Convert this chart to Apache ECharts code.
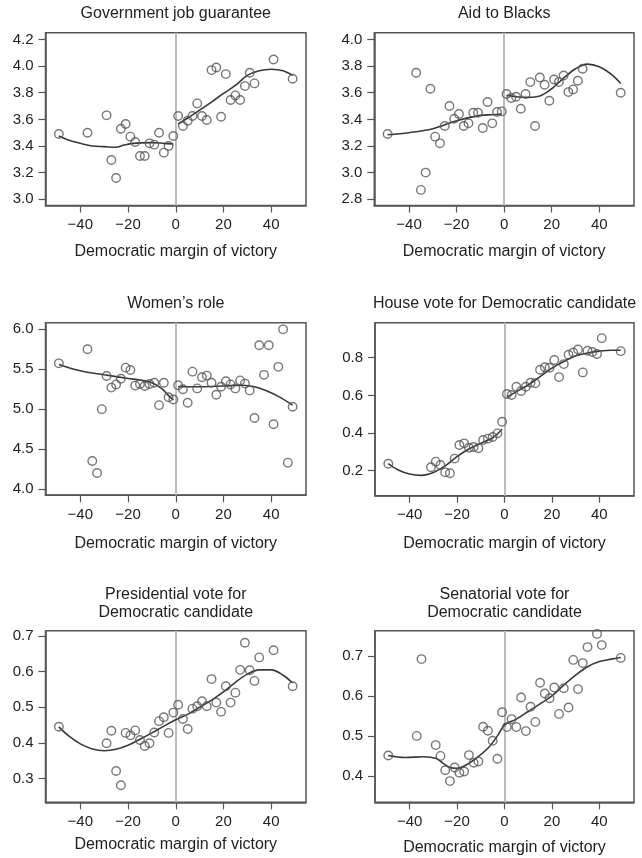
<!DOCTYPE html>
<html>
<head>
<meta charset="utf-8">
<script src="https://cdn.jsdelivr.net/npm/echarts@6/dist/echarts.min.js"></script>
<style>html,body{margin:0;padding:0;background:#fff}#c{width:642px;height:858px}</style>
</head>
<body>
<div id="c"></div>
<script>
// ---------- DATA ----------
const xTicks = [-40, -20, 0, 20, 40];
const xName = 'Democratic margin of victory';

// Government job guarantee
const jobTitle = 'Government job guarantee';
const jobTicks = [3.0, 3.2, 3.4, 3.6, 3.8, 4.0, 4.2];
const jobX = [-49,-37,-29,-27,-25,-23,-21,-19,-17,-15,-13,-11,-9,-7,-5,-3,-1,1,3,5,7,9,11,13,15,17,19,21,23,25,27,29,31,33,41,49];
const jobY = [3.49,3.50,3.63,3.295,3.16,3.53,3.565,3.47,3.43,3.325,3.325,3.42,3.41,3.50,3.35,3.40,3.475,3.625,3.55,3.59,3.625,3.72,3.625,3.595,3.97,3.99,3.62,3.94,3.745,3.78,3.745,3.85,3.95,3.87,4.05,3.905];
const jobFitLX = [-49,-45,-40,-35,-30,-25,-22,-18,-10,-5,-1];
const jobFitLY = [3.475,3.445,3.42,3.40,3.395,3.39,3.405,3.42,3.425,3.42,3.415];
const jobFitRX = [1,5,10,15,20,25,30,35,40,45,49];
const jobFitRY = [3.565,3.61,3.67,3.73,3.795,3.855,3.93,3.965,3.977,3.965,3.93];

// Aid to Blacks
const aidTitle = 'Aid to Blacks';
const aidTicks = [2.8, 3.0, 3.2, 3.4, 3.6, 3.8, 4.0];
const aidX = [-49,-37,-35,-33,-31,-29,-27,-25,-23,-21,-19,-17,-15,-13,-11,-9,-7,-5,-3,-1,1,3,5,7,9,11,13,15,17,19,21,23,25,27,29,31,33,49];
const aidY = [3.29,3.75,2.87,3.00,3.63,3.27,3.22,3.35,3.50,3.405,3.44,3.35,3.37,3.45,3.45,3.335,3.53,3.37,3.455,3.46,3.59,3.56,3.57,3.48,3.59,3.68,3.35,3.715,3.66,3.54,3.70,3.68,3.73,3.605,3.625,3.69,3.78,3.60];
const aidFitLX = [-49,-40,-30,-20,-10,-5,-1];
const aidFitLY = [3.285,3.30,3.33,3.39,3.43,3.435,3.44];
const aidFitRX = [1,5,10,15,20,25,30,35,40,45,49];
const aidFitRY = [3.58,3.57,3.565,3.575,3.63,3.71,3.78,3.815,3.795,3.74,3.67];

// Women's role
const womenTitle = 'Women\u2019s role';
const womenTicks = [4.0, 4.5, 5.0, 5.5, 6.0];
const womenX = [-49,-37,-35,-33,-31,-29,-27,-25,-23,-21,-19,-17,-15,-13,-11,-9,-7,-5,-3,-1,1,3,5,7,9,11,13,15,17,19,21,23,25,27,29,31,33,35,37,39,41,43,45,47,49];
const womenY = [5.574,5.75,4.35,4.20,5.00,5.415,5.27,5.31,5.38,5.52,5.49,5.295,5.315,5.29,5.315,5.33,5.05,5.33,5.15,5.12,5.30,5.25,5.08,5.47,5.26,5.40,5.42,5.33,5.18,5.28,5.35,5.31,5.26,5.36,5.32,5.235,4.89,5.80,5.43,5.80,4.81,5.53,6.00,4.33,5.03];
const womenFitLX = [-49,-40,-30,-20,-14,-10,-6,-3,-1];
const womenFitLY = [5.56,5.48,5.43,5.385,5.36,5.33,5.26,5.17,5.115];
const womenFitRX = [1,10,20,28,33,38,43,49];
const womenFitRY = [5.28,5.28,5.29,5.30,5.28,5.23,5.16,5.05];

// House vote
const houseTitle = 'House vote for Democratic candidate';
const houseTicks = [0.2, 0.4, 0.6, 0.8];
const houseX = [-49,-31,-29,-27,-25,-23,-21,-19,-17,-15,-13,-11,-9,-7,-5,-3,-1,1,3,5,7,9,11,13,15,17,19,21,23,25,27,29,31,33,35,37,39,41,49];
const houseY = [0.237,0.218,0.248,0.23,0.191,0.186,0.264,0.336,0.345,0.322,0.326,0.319,0.363,0.37,0.379,0.398,0.46,0.607,0.602,0.646,0.623,0.646,0.667,0.664,0.736,0.749,0.747,0.788,0.697,0.766,0.816,0.828,0.844,0.722,0.837,0.83,0.82,0.904,0.835];
const houseFitLX = [-49,-45,-40,-35,-30,-25,-20,-15,-10,-5,-1];
const houseFitLY = [0.237,0.205,0.182,0.175,0.19,0.225,0.275,0.315,0.345,0.375,0.42];
const houseFitRX = [1,5,10,15,20,25,30,35,40,45,49];
const houseFitRY = [0.59,0.62,0.655,0.70,0.745,0.78,0.81,0.825,0.835,0.84,0.84];

// Presidential vote
const presTitle = 'Presidential vote for\nDemocratic candidate';
const presTicks = [0.3, 0.4, 0.5, 0.6, 0.7];
const presX = [-49,-29,-27,-25,-23,-21,-19,-17,-15,-13,-11,-9,-7,-5,-3,-1,1,3,5,7,9,11,13,15,17,19,21,23,25,27,29,31,33,35,41,49];
const presY = [0.445,0.399,0.434,0.321,0.281,0.428,0.421,0.435,0.408,0.391,0.399,0.429,0.461,0.472,0.428,0.485,0.507,0.467,0.439,0.496,0.503,0.517,0.503,0.579,0.513,0.487,0.559,0.513,0.541,0.605,0.681,0.604,0.574,0.64,0.66,0.559];
const presFitX = [-49,-45,-40,-35,-30,-25,-20,-15,-10,-5,0,5,10,15,20,25,30,35,40,45,49];
const presFitY = [0.445,0.42,0.397,0.383,0.378,0.382,0.393,0.41,0.428,0.447,0.465,0.48,0.50,0.52,0.543,0.57,0.593,0.605,0.605,0.59,0.568];

// Senatorial vote
const senTitle = 'Senatorial vote for\nDemocratic candidate';
const senTicks = [0.4, 0.5, 0.6, 0.7];
const senX = [-49,-37,-35,-29,-27,-25,-23,-21,-19,-17,-15,-13,-11,-9,-7,-5,-3,-1,1,3,5,7,9,11,13,15,17,19,21,23,25,27,29,31,33,35,39,41,49];
const senY = [0.451,0.5,0.692,0.477,0.45,0.414,0.387,0.421,0.408,0.411,0.452,0.433,0.436,0.523,0.513,0.488,0.443,0.559,0.522,0.542,0.522,0.596,0.512,0.573,0.535,0.633,0.606,0.594,0.621,0.555,0.619,0.571,0.69,0.617,0.682,0.722,0.755,0.727,0.695];
const senFitX = [-49,-42,-34,-29,-26,-23,-20,-16,-12,-7,-3,0,5,10,15,20,25,30,35,40,45,49];
const senFitY = [0.451,0.446,0.448,0.444,0.432,0.421,0.419,0.428,0.444,0.469,0.50,0.527,0.542,0.561,0.58,0.60,0.627,0.652,0.673,0.686,0.692,0.696];

// ---------- LAYOUT ----------
const FONT = '"Liberation Sans", Arial, Helvetica, sans-serif';
const TXT = '#222';
const BOX = '#555';
const zip = (xs, ys) => xs.map((x, i) => [x, ys[i]]);

const panels = [
  { title: jobTitle, ticks: jobTicks, x: jobX, y: jobY, fits: [[jobFitLX, jobFitLY], [jobFitRX, jobFitRY]],
    grid: { left: 45.5, top: 32.7, width: 260.5, height: 172.8 }, ymin: 2.953, ymax: 4.251, ty: 14, gap: 38 },
  { title: aidTitle, ticks: aidTicks, x: aidX, y: aidY, fits: [[aidFitLX, aidFitLY], [aidFitRX, aidFitRY]],
    grid: { left: 374.3, top: 32.7, width: 259.7, height: 172.8 }, ymin: 2.753, ymax: 4.051, ty: 14, gap: 38 },
  { title: womenTitle, ticks: womenTicks, x: womenX, y: womenY, fits: [[womenFitLX, womenFitLY], [womenFitRX, womenFitRY]],
    grid: { left: 45.5, top: 322.7, width: 260.5, height: 172.5 }, ymin: 3.922, ymax: 6.083, ty: 304, gap: 40 },
  { title: houseTitle, ticks: houseTicks, x: houseX, y: houseY, fits: [[houseFitLX, houseFitLY], [houseFitRX, houseFitRY]],
    grid: { left: 375, top: 322.7, width: 259, height: 173 }, ymin: 0.067, ymax: 0.986, ty: 304, gap: 40 },
  { title: presTitle, ticks: presTicks, x: presX, y: presY, fits: [[presFitX, presFitY]],
    grid: { left: 45.5, top: 630.7, width: 260.5, height: 171.6 }, ymin: 0.233, ymax: 0.715, ty: 603.5, gap: 34 },
  { title: senTitle, ticks: senTicks, x: senX, y: senY, fits: [[senFitX, senFitY]],
    grid: { left: 375, top: 630.7, width: 259, height: 171.6 }, ymin: 0.334, ymax: 0.763, ty: 603.5, gap: 37 }
];

const minus = s => String(s).replace('-', '\u2212');

const option = {
  backgroundColor: '#fff',
  animation: false,
  grid: [], xAxis: [], yAxis: [], series: [], graphic: []
};

panels.forEach((p, i) => {
  option.grid.push(Object.assign({ show: true, borderColor: BOX, borderWidth: 1.5, backgroundColor: '#fff', containLabel: false }, p.grid));
  option.xAxis.push({
    type: 'value', gridIndex: i, min: -54.6, max: 54.6,
    name: xName, nameLocation: 'middle', nameGap: p.gap,
    nameTextStyle: { fontFamily: FONT, fontSize: 16, color: TXT },
    axisLine: { show: true, onZero: false, lineStyle: { color: BOX, width: 1.5 } },
    axisTick: { show: true, length: 7, lineStyle: { color: BOX, width: 1.2 }, customValues: xTicks },
    axisLabel: { show: true, margin: 12, fontFamily: FONT, fontSize: 15, color: TXT, customValues: xTicks,
      formatter: v => minus(v) },
    splitLine: { show: false }
  });
  option.yAxis.push({
    type: 'value', gridIndex: i, min: p.ymin, max: p.ymax,
    axisLine: { show: true, onZero: false, lineStyle: { color: BOX, width: 1.5 } },
    axisTick: { show: true, length: 7, lineStyle: { color: BOX, width: 1.2 }, customValues: p.ticks },
    axisLabel: { show: true, margin: 12, fontFamily: FONT, fontSize: 15, color: TXT, customValues: p.ticks,
      formatter: v => Number(v).toFixed(1) },
    splitLine: { show: false }
  });
  p.fits.forEach(f => {
    option.series.push({
      type: 'line', xAxisIndex: i, yAxisIndex: i, data: zip(f[0], f[1]),
      smooth: 0.35, showSymbol: false, symbol: 'none', silent: true,
      lineStyle: { color: '#383838', width: 1.6 }, z: 3
    });
  });
  option.series.push({
    type: 'scatter', xAxisIndex: i, yAxisIndex: i, data: zip(p.x, p.y),
    symbol: 'circle', symbolSize: 8.5, silent: true, z: 4,
    itemStyle: { color: 'rgba(0,0,0,0)', borderColor: '#555', borderWidth: 1.4 },
    markLine: {
      silent: true, symbol: ['none', 'none'], label: { show: false }, animation: false,
      lineStyle: { color: '#bcbcbc', width: 2, type: 'solid' },
      data: [{ xAxis: 0 }], z: 1
    }
  });
  option.graphic.push({
    type: 'text', x: p.grid.left + p.grid.width / 2, y: p.ty,
    style: { text: p.title, align: 'center', verticalAlign: 'middle', fill: TXT,
      font: '16px ' + FONT, lineHeight: 18.5 }
  });
});

const chart = echarts.init(document.getElementById('c'), null, { renderer: 'canvas' });
chart.setOption(option);
</script>
</body>
</html>
